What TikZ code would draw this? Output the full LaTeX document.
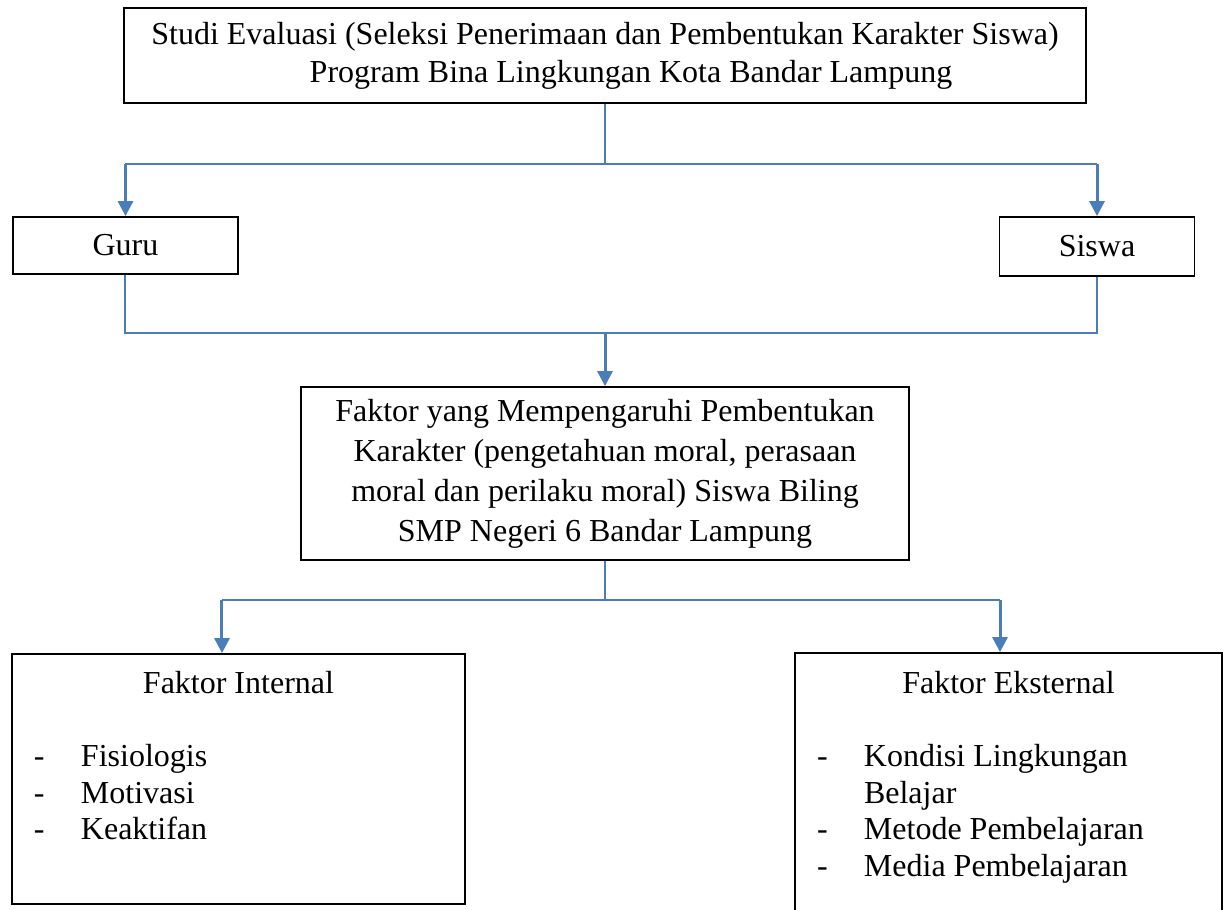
\documentclass[tikz,border=0pt]{standalone}
\usepackage{fontspec}
\setmainfont{Liberation Serif}
\usepackage{tikz}
\usetikzlibrary{positioning, arrows.meta}
\definecolor{linkblue}{RGB}{74,126,187}
\tikzstyle{block} = [rectangle, draw=black, line width=0.9pt, inner sep=0pt, align=center]
\tikzstyle{listbox} = [rectangle, draw=black, line width=0.9pt, inner xsep=11pt, inner ysep=0pt, align=flush left, font=\fontsize{16}{18.25}\selectfont]
\tikzstyle{link} = [draw=linkblue, line width=1pt]
\tikzstyle{arrow} = [draw=linkblue, line width=1.5pt, -{Triangle[width=7.5pt,length=7.5pt]}]
\newcommand{\dashitem}[1]{\noindent\makebox[23.5pt][l]{-}#1\par}
\newcommand{\moreitem}[1]{\noindent\hspace*{23.5pt}#1\par}

\begin{document}
\begin{tikzpicture}[font=\fontsize{16}{18.5}\selectfont]
    \useasboundingbox (-302.5pt,27.75pt) rectangle (309.5pt,-426.75pt);
    \fill [white] (-302.5pt,27.75pt) rectangle (309.5pt,-426.75pt);

    \node (studi) [block, minimum width=481pt, minimum height=47.5pt, font=\fontsize{16}{19}\selectfont] {Studi Evaluasi (Seleksi Penerimaan dan Pembentukan Karakter Siswa)\\\hspace*{26pt}Program Bina Lingkungan Kota Bandar Lampung};
    \node (guru) [block, minimum width=112.5pt, minimum height=28.5pt, node distance=95pt, below of=studi, xshift=-239.75pt] {Guru};
    \node (siswa) [block, minimum width=97.5pt, minimum height=29.5pt, node distance=95.5pt, below of=studi, xshift=246pt] {Siswa};
    \node (faktor) [block, minimum width=304pt, minimum height=86.5pt, node distance=209pt, below of=studi, font=\fontsize{16}{20}\selectfont] {Faktor yang Mempengaruhi Pembentukan\\Karakter (pengetahuan moral, perasaan\\moral dan perilaku moral) Siswa Biling\\SMP Negeri 6 Bandar Lampung};
    \node (internal) [listbox, text width=204.5pt, text height=19.5pt, text depth=105.5pt, node distance=152.75pt, below of=faktor, xshift=-183.25pt] {%
        {\centering Faktor Internal\par}
        \vspace{18.5pt}
        \dashitem{Fisiologis}
        \dashitem{Motivasi}
        \dashitem{Keaktifan}};
    \node (eksternal) [listbox, text width=191.5pt, text height=20pt, text depth=115pt, node distance=157.25pt, below of=faktor, xshift=201.75pt] {%
        {\centering Faktor Eksternal\par}
        \vspace{18.5pt}
        \dashitem{Kondisi Lingkungan}
        \moreitem{Belajar}
        \dashitem{Metode Pembelajaran}
        \dashitem{Media Pembelajaran}};

    \coordinate (split1) at ([yshift=-30pt]studi.south);
    \coordinate (join2) at ([yshift=26.5pt]faktor.north);
    \coordinate (split3) at ([yshift=-19.5pt]faktor.south);
    \coordinate (intin) at ([xshift=-8.25pt]internal.north);
    \coordinate (ekin) at ([xshift=-4.25pt]eksternal.north);

    \draw [link] (studi.south) -- (split1);
    \draw [link] (guru.north |- split1) -- (siswa.north |- split1);
    \draw [arrow] (guru.north |- split1) -- (guru.north);
    \draw [arrow] (siswa.north |- split1) -- (siswa.north);

    \draw [link] (guru.south) -- (guru.south |- join2) -- (siswa.south |- join2) -- (siswa.south);
    \draw [arrow] (join2) -- (faktor.north);

    \draw [link] (faktor.south) -- (split3);
    \draw [link] (intin |- split3) -- (ekin |- split3);
    \draw [arrow] (intin |- split3) -- (intin);
    \draw [arrow] (ekin |- split3) -- (ekin);
\end{tikzpicture}
\end{document}
